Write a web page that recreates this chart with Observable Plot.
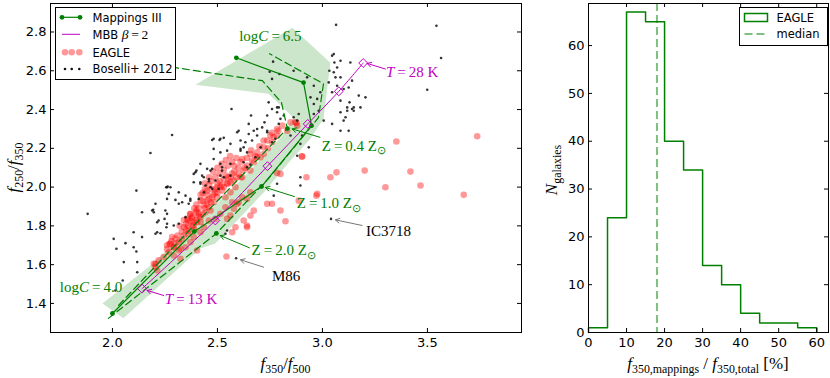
<!DOCTYPE html>
<html><head><meta charset="utf-8">
<script src="https://cdn.jsdelivr.net/npm/d3@7"></script>
<script src="https://cdn.jsdelivr.net/npm/@observablehq/plot@0.6"></script>
<style>
body{margin:0;background:#fff;}
#wrap{position:relative;width:830px;height:378px;overflow:hidden;background:#fff;}
#left,#right{position:absolute;top:0;}
#left{left:0}
#right{left:540px}
</style></head><body>
<div id="wrap"><div id="left"></div><div id="right"></div></div>
<script>
// ---------- LEFT PANEL DATA ----------
const xTicksL = [2.0, 2.5, 3.0, 3.5];
const yTicksL = [1.4, 1.6, 1.8, 2.0, 2.2, 2.4, 2.6, 2.8];

const boselli = [
[3.065,2.837],[3.543,2.832],[3.565,2.666],[3.499,2.502],[3.054,2.686],[3.086,2.652],[3.033,2.600],[3.054,2.592],[3.062,2.566],[3.086,2.566],[3.070,2.523],[3.030,2.540],[3.046,2.489],[3.101,2.506],[3.125,2.514],[3.173,2.472],[3.205,2.463],[3.129,2.437],[3.149,2.411],[3.141,2.403],[3.181,2.411],[3.118,2.394],[3.086,2.386],[3.046,2.326],[3.101,2.343],[2.935,2.205],[2.895,2.223],[2.880,2.162],[2.895,2.008],
[2.749,2.595],[2.765,2.647],[2.795,2.583],[2.863,2.600],[2.927,2.566],[2.959,2.523],[2.990,2.489],[2.943,2.463],[2.975,2.455],[3.046,2.678],[3.057,2.643],[3.070,2.617],[3.133,2.643],[3.141,2.549],[2.760,2.558],[2.744,2.437],[2.760,2.403],[2.784,2.411],[2.660,2.369],[2.567,2.403],[2.514,2.249],[2.482,2.249],[2.649,2.274],[2.665,2.240],[2.689,2.266],[2.713,2.308],[2.737,2.291],[2.880,2.343],[2.887,2.377],[2.959,2.429],[2.959,2.377],[2.982,2.394],[3.006,2.343],[3.086,2.446],[3.118,2.411],[3.149,2.394],[3.110,2.360],[3.125,2.291],[3.086,2.291],
[2.181,2.176],[2.284,2.269],[2.475,2.243],[2.510,2.243],[2.530,2.254],[2.482,2.197],[2.482,2.145],[2.594,2.283],[2.601,2.291],[2.610,2.240],[2.633,2.231],[2.625,2.205],[2.641,2.179],[2.610,2.188],[2.649,2.326],[2.673,2.291],[2.724,2.334],[2.737,2.369],[2.737,2.283],[2.776,2.249],[2.792,2.326],[2.800,2.352],[2.816,2.369],[2.784,2.386],[2.792,2.411],[2.863,2.360],[2.760,2.231],[2.705,2.205],[2.681,2.154],[2.562,2.223],[2.546,2.188],[2.514,2.120],[2.451,2.094],[2.427,2.059],[2.395,2.076],[2.387,2.025],[2.419,2.025],[2.459,2.030],[2.467,1.999],[2.514,2.059],[2.276,1.999],[2.260,1.999],[2.895,2.051],[2.848,2.266],[2.903,2.266],
[2.114,1.982],[2.141,1.870],[2.194,1.883],[2.197,1.870],[2.263,2.003],[2.268,1.965],[2.252,1.879],[2.260,1.862],[2.248,1.836],[2.220,1.828],[2.260,1.811],[2.213,1.767],[2.205,1.759],[2.229,1.762],[2.141,1.742],[2.101,1.690],[2.062,1.711],[2.019,1.682],[2.054,1.613],[2.118,1.561],[2.049,1.518],[2.316,1.914],[2.316,1.973],[2.300,1.934],[2.332,1.922],[2.363,1.914],[2.371,1.939],[2.348,1.956],[2.387,2.068],[2.400,2.085],[2.419,2.017],[2.443,2.008],[2.435,1.973],[2.467,2.085],[2.459,2.042],[2.490,2.034],[2.522,2.085],[2.530,2.051],[2.506,1.991],[2.562,2.059],[2.562,2.120],[2.641,2.102],[2.657,2.116],[2.625,2.128],[2.475,1.991],[2.411,1.939],[2.546,1.776],[2.538,1.759],
[1.882,1.862],[2.114,1.668],[2.014,1.467],[2.118,1.613],[2.260,1.939],[2.205,1.914],[2.189,1.879],[2.213,1.819],[2.256,1.999],[2.371,1.930],[2.348,1.845],[2.316,1.811],[2.292,1.802],[2.257,1.793],[2.101,1.767],[2.006,1.733],
[2.768,1.956],[2.784,2.017],[2.589,1.633],[3.041,1.836],[2.419,2.120],[2.435,2.051],[2.475,2.094],[2.522,2.102],[2.514,2.179],[2.610,2.197],[2.689,2.300]
];

const eagle = [
[3.737,2.262],[3.352,2.235],[3.201,2.085],[3.419,2.080],[3.067,2.076],[3.038,2.051],[2.924,2.051],[3.300,1.999],[3.467,2.008],[2.903,2.159],[2.876,2.331],[2.784,2.073],[2.768,2.257],[3.673,1.960],[2.971,1.956],[2.800,1.879],[2.824,1.824],[2.760,1.914],[2.975,1.965],[2.887,1.930],[2.737,1.914],[2.800,2.068],[2.641,1.793],[2.657,1.853],[2.625,1.828],[2.586,1.793],[2.570,1.767],[2.543,1.642],[2.641,1.802],[2.673,1.879],[2.403,1.673],
[2.271,1.708],[2.292,1.647],[2.324,1.630],[2.244,1.639],[2.213,1.570],[2.205,1.604],[2.197,1.604],[2.276,1.708],[2.220,1.622],[2.205,1.587],[2.268,1.664],[2.284,1.742],[2.300,1.735],[2.260,1.700],[2.292,1.690],[2.316,1.674],[2.340,1.793],[2.356,1.836],[2.371,1.862],[2.371,1.828],[2.387,1.819],[2.411,1.862],
[2.618,2.145],[2.641,2.111],[2.657,2.171],[2.689,2.179],[2.720,2.205],[2.737,2.240],[2.752,2.266],[2.784,2.300],[2.808,2.317],[2.848,2.334],[2.880,2.317],[2.665,2.137],[2.625,2.085],[2.601,2.068],[2.578,2.034],[2.546,2.017],[2.522,1.982],[2.498,1.948],[2.482,1.922],[2.459,1.896],[2.443,1.870],[2.419,1.845],[2.403,1.819],[2.387,1.802],[2.363,1.776],[2.340,1.750],[2.316,1.716],[2.292,1.690],[2.562,2.051],[2.530,2.042],[2.498,1.999],[2.490,1.973],[2.475,1.948],[2.451,1.931],[2.435,1.905],[2.467,1.879],[2.618,2.051],[2.586,1.999],[2.657,2.085],[2.673,2.128],[2.705,2.154],[2.538,1.948],[2.562,1.973],[2.570,1.922],[2.538,1.896],[2.514,1.862],[2.490,1.836],[2.601,1.922],[2.459,1.828],[2.435,1.793],[2.419,1.767],[2.387,1.742],[2.371,1.716],[2.348,1.690],[2.324,1.682],
[2.689,2.154],[2.720,2.171],[2.760,2.231],[2.784,2.266],[2.832,2.291],[2.871,2.334],[2.903,2.157],[2.610,2.051],[2.562,2.025],[2.514,1.999],
[2.594,1.914],[2.618,1.948],[2.641,1.940],[2.657,1.973],[2.578,1.888],[2.562,1.853],[2.546,1.836],
[2.450,1.960],[2.470,1.990],[2.500,2.020],[2.430,1.930],[2.410,1.890],[2.400,1.880],[2.520,2.010],[2.550,2.050],[2.580,2.080],[2.600,2.100],[2.430,1.860],[2.380,1.840],[2.360,1.800],[2.330,1.770],
[2.26,1.68],[2.28,1.72],[2.30,1.71],[2.31,1.75],[2.33,1.73],[2.35,1.78],[2.36,1.76],[2.38,1.80],[2.39,1.78],[2.40,1.83],[2.41,1.85],[2.42,1.82],[2.44,1.89],[2.45,1.91],[2.46,1.94],[2.47,1.92],[2.48,1.96],[2.49,1.99],[2.50,1.97],[2.51,2.03],[2.53,2.00],[2.54,2.06],[2.55,2.02],[2.57,2.07],[2.58,2.11],[2.59,2.05],[2.61,2.13],[2.63,2.10],[2.64,2.15],[2.66,2.19],[2.68,2.16],[2.70,2.21],[2.72,2.24],[2.74,2.20],[2.76,2.28],[2.79,2.29],[2.44,1.99],[2.42,1.96],[2.46,2.01],[2.40,1.91],
[2.43,1.97],[2.44,2.02],[2.46,2.05],[2.48,2.08],[2.50,2.10],[2.52,2.12],[2.54,2.14],[2.56,2.16],[2.47,2.03],[2.49,2.05],[2.51,2.07],[2.53,2.09],[2.55,2.11],[2.57,2.13],[2.59,2.15],[2.45,1.98],[2.42,1.93],[2.40,1.87],[2.38,1.85],[2.36,1.83],[2.35,1.81],[2.37,1.86],[2.39,1.89],[2.34,1.83],[2.32,1.80]
];

// Mappings III tracks (logC = 4.0 ... 6.5)
const trackZ10 = [[2.000,1.348],[2.390,1.771],[2.710,2.003],[2.948,2.317],[2.910,2.539],[2.590,2.667]];
const trackZ04 = [[2.029,1.390],[2.419,1.838],[2.833,2.302],[2.805,2.436],[2.714,2.549],[2.276,2.620]];
const trackZ20 = [[1.981,1.323],[2.495,1.761],[2.743,2.044],[2.981,2.358],[3.005,2.533],[2.748,2.688]];
const zPoints = [[2.833,2.302],[2.495,1.761]];
const envelope = [[2.052,1.323],[2.419,1.683],[2.490,1.709],[2.729,1.982],[2.848,2.137],[2.943,2.250],[3.005,2.353],[3.038,2.642],[2.857,2.822],[2.395,2.528],[2.743,2.482],[2.862,2.358],[2.810,2.266],[2.610,2.034],[2.371,1.786],[2.181,1.596],[1.952,1.400]];

// MBB beta=2 track, T = 13 ... 28 K
const mbbT = [13,16,19,22,25,28];
const mbbX = [2.141,2.490,2.738,2.930,3.078,3.194];
const mbbY = [1.476,1.828,2.108,2.326,2.494,2.640];

// annotations: [x, y, color, parts]
const annTexts = [
  [2.606,2.750,"green",[["log","r"],["C","i"],["\u2009=\u2009","r"],["6.5","r"]]],
  [1.752,1.457,"green",[["log","r"],["C","i"],["\u2009=\u2009","r"],["4.0","r"]]],
  [3.305,2.564,"#bf00bf",[["T","i"],["\u2009=\u2009","r"],["28 K","r"]]],
  [2.252,1.395,"#bf00bf",[["T","i"],["\u2009=\u2009","r"],["13 K","r"]]],
  [2.999,2.186,"green",[["Z","r"],["\u2009=\u2009","r"],["0.4 Z","r"],["\u2299","s"]]],
  [2.880,1.889,"green",[["Z","r"],["\u2009=\u2009","r"],["1.0 Z","r"],["\u2299","s"]]],
  [2.665,1.647,"green",[["Z","r"],["\u2009=\u2009","r"],["2.0 Z","r"],["\u2299","s"]]],
  [3.210,1.745,"black",[["IC3718","r"]]],
  [2.762,1.511,"black",[["M86","r"]]]
];
const arrows = [
  {x1:2.988,y1:2.257,x2:2.856,y2:2.300,c:"green"},
  {x1:2.867,y1:1.951,x2:2.729,y2:1.998,c:"green"},
  {x1:2.652,y1:1.687,x2:2.514,y2:1.750,c:"green"},
  {x1:3.300,y1:2.609,x2:3.213,y2:2.638,c:"#bf00bf"},
  {x1:2.244,y1:1.441,x2:2.165,y2:1.467,c:"#bf00bf"},
  {x1:3.189,y1:1.802,x2:3.062,y2:1.831,c:"#777"},
  {x1:2.720,y1:1.587,x2:2.610,y2:1.625,c:"#777"}
];

// ---------- RIGHT PANEL DATA ----------
const binEdges = [0,5,10,15,20,25,30,35,40,45,50,55,60];
const counts = [1,24,67,65,40,34,14,10,4,2,2,1];
const medianVal = 18;
const xTicksR = [0,10,20,30,40,50,60];
const yTicksR = [0,10,20,30,40,50,60];

// ---------- helpers ----------
const GREEN = "green", MAG = "#bf00bf";
function rich(sel, x, y, parts, o = {}) {
  const size = o.size || 15;
  const t = sel.append("text").attr("x", x).attr("y", y)
    .attr("font-family", "Liberation Serif")
    .attr("font-size", size).attr("fill", o.color || "black")
    .attr("text-anchor", o.anchor || "start");
  if (o.rotate) t.attr("transform", `rotate(${o.rotate},${x},${y})`);
  let shift = 0;
  for (const [s, k] of parts) {
    const sub = k === "s";
    const target = sub ? size * 0.26 : 0;
    const ts = t.append("tspan").text(s);
    if (target !== shift) { ts.attr("dy", target - shift); shift = target; }
    ts.attr("font-size", sub ? size * 0.7 : (k === "sans" ? (o.sansSize || size) : size));
    ts.attr("font-style", k === "i" ? "italic" : "normal");
    if (k === "sans") ts.attr("font-family", "DejaVu Sans");
  }
  return t;
}
function scaler(plot, name) {
  const s = plot.scale(name);
  if (s && typeof s.apply === "function") return v => s.apply(v);
  const [d0, d1] = s.domain, [r0, r1] = s.range;
  return v => r0 + (v - d0) / (d1 - d0) * (r1 - r0);
}
function legendText(g, x, y, txt) {
  return g.append("text").attr("x", x).attr("y", y).attr("text-anchor", "start")
    .attr("font-family", "DejaVu Sans").attr("font-size", 11.5).attr("fill", "black").text(txt);
}
const f1 = d => d.toFixed(1);

// ---------- LEFT PLOT ----------
const LW = 540, LH = 378, lmL = 50, lmR = 19, lmT = 3, lmB = 46;
const innerW = LW - lmL - lmR, innerH = LH - lmT - lmB;
const mbb = mbbT.map((t, i) => ({t, x: mbbX[i], y: mbbY[i]}));
const left = Plot.plot({
  width: LW, height: LH, marginLeft: lmL, marginRight: lmR, marginTop: lmT, marginBottom: lmB,
  style: {fontFamily: "DejaVu Sans", fontSize: "13px", background: "white", color: "black", overflow: "visible"},
  x: {domain: [1.705, 3.948]},
  y: {domain: [1.25, 2.947]},
  marks: [
    Plot.line(envelope, {x: d => d[0], y: d => d[1], fill: GREEN, fillOpacity: 0.2, stroke: null, curve: "linear-closed"}),
    Plot.dot(eagle, {x: d => d[0], y: d => d[1], r: 3.3, fill: "red", fillOpacity: 0.4, stroke: null}),
    Plot.dot(boselli, {x: d => d[0], y: d => d[1], r: 1.3, fill: "#111", fillOpacity: 0.85, stroke: null}),
    Plot.line(trackZ04, {x: d => d[0], y: d => d[1], stroke: GREEN, strokeWidth: 1.2, strokeDasharray: "7,4"}),
    Plot.line(trackZ20, {x: d => d[0], y: d => d[1], stroke: GREEN, strokeWidth: 1.2, strokeDasharray: "7,4"}),
    Plot.line(trackZ10, {x: d => d[0], y: d => d[1], stroke: GREEN, strokeWidth: 1.2}),
    Plot.dot(trackZ10, {x: d => d[0], y: d => d[1], r: 2.4, fill: GREEN}),
    Plot.dot(zPoints, {x: d => d[0], y: d => d[1], r: 2.4, fill: GREEN}),
    Plot.line(mbb, {x: "x", y: "y", stroke: MAG, strokeWidth: 1, curve: "catmull-rom"}),
    Plot.dot(mbb, {x: "x", y: "y", symbol: "diamond2", r: 4, stroke: MAG, strokeWidth: 1, fill: "none"}),
    Plot.arrow(arrows, {x1: "x1", y1: "y1", x2: "x2", y2: "y2", stroke: "c", strokeWidth: 1, headLength: 7}),
    Plot.ruleX(xTicksL, {stroke: "black", insetTop: innerH - 4}),
    Plot.ruleX(xTicksL, {stroke: "black", insetBottom: innerH - 4}),
    Plot.ruleY(yTicksL, {stroke: "black", insetRight: innerW - 4}),
    Plot.ruleY(yTicksL, {stroke: "black", insetLeft: innerW - 4}),
    Plot.frame({stroke: "black"}),
    Plot.axisX({ticks: xTicksL, tickSize: 0, tickPadding: 5, tickFormat: f1, label: null}),
    Plot.axisY({ticks: yTicksL, tickSize: 0, tickPadding: 4, tickFormat: f1, label: null})
  ]
});
document.getElementById("left").appendChild(left);
{
  const sx = scaler(left, "x"), sy = scaler(left, "y");
  const svg = d3.select(left);
  for (const [x, y, c, parts] of annTexts) rich(svg, sx(x), sy(y), parts, {color: c, size: 15});
  // axis labels
  rich(svg, lmL + innerW / 2, 369, [["f","i"],["350","s"],["/","r"],["f","i"],["500","s"]], {size: 17, anchor: "middle"});
  rich(svg, 19, lmT + innerH / 2, [["f","i"],["250","s"],["/","r"],["f","i"],["350","s"]], {size: 17, anchor: "middle", rotate: -90});
  // legend
  const g = svg.append("g");
  g.append("rect").attr("x", 55.5).attr("y", 7.5).attr("width", 120).attr("height", 72)
    .attr("fill", "white").attr("stroke", "black").attr("stroke-width", 1);
  const rows = [17.3, 34.3, 52.3, 69];
  g.append("line").attr("x1", 62).attr("x2", 80).attr("y1", rows[0]).attr("y2", rows[0]).attr("stroke", GREEN).attr("stroke-width", 1.2);
  [62, 80].forEach(x => g.append("circle").attr("cx", x).attr("cy", rows[0]).attr("r", 2.4).attr("fill", GREEN));
  g.append("line").attr("x1", 62).attr("x2", 80).attr("y1", rows[1]).attr("y2", rows[1]).attr("stroke", MAG).attr("stroke-width", 1);
  [65, 71.7, 79.3].forEach(x => g.append("circle").attr("cx", x).attr("cy", rows[2]).attr("r", 3.3).attr("fill", "red").attr("fill-opacity", 0.4));
  [65, 71.7, 79.3].forEach(x => g.append("circle").attr("cx", x).attr("cy", rows[3]).attr("r", 1.3).attr("fill", "#111"));
  legendText(g, 92.5, rows[0] + 4.2, "Mappings III");
  rich(g, 92.5, rows[1] + 4.2, [["MBB ","sans"],["\u03b2","i"],["\u2009=\u20092","r"]], {size: 13.5, sansSize: 11.5});
  legendText(g, 92.5, rows[2] + 4.2, "EAGLE");
  legendText(g, 92.5, rows[3] + 4.2, "Boselli+ 2012");
}

// ---------- RIGHT PLOT ----------
const RW = 290, RH = 378, rmL = 48, rmR = 2, rmT = 3, rmB = 46;
const rInnerW = RW - rmL - rmR, rInnerH = RH - rmT - rmB;
const histPts = [{x: binEdges[0], y: 0}];
counts.forEach((c, i) => { histPts.push({x: binEdges[i], y: c}, {x: binEdges[i + 1], y: c}); });
histPts.push({x: binEdges[binEdges.length - 1], y: 0});
const right = Plot.plot({
  width: RW, height: RH, marginLeft: rmL, marginRight: rmR, marginTop: rmT, marginBottom: rmB,
  style: {fontFamily: "DejaVu Sans", fontSize: "13px", background: "white", color: "black", overflow: "visible"},
  x: {domain: [0, 63.1]},
  y: {domain: [0, 68.8]},
  marks: [
    Plot.line(histPts, {x: "x", y: "y", stroke: GREEN, strokeWidth: 1.5}),
    Plot.ruleX([medianVal], {stroke: GREEN, strokeOpacity: 0.5, strokeWidth: 2, strokeDasharray: "8,4"}),
    Plot.ruleX(xTicksR, {stroke: "black", insetTop: rInnerH - 4}),
    Plot.ruleX(xTicksR, {stroke: "black", insetBottom: rInnerH - 4}),
    Plot.ruleY(yTicksR, {stroke: "black", insetRight: rInnerW - 4}),
    Plot.ruleY(yTicksR, {stroke: "black", insetLeft: rInnerW - 4}),
    Plot.frame({stroke: "black"}),
    Plot.axisX({ticks: xTicksR, tickSize: 0, tickPadding: 5, label: null}),
    Plot.axisY({ticks: yTicksR, tickSize: 0, tickPadding: 4, label: null})
  ]
});
document.getElementById("right").appendChild(right);
{
  const svg = d3.select(right);
  rich(svg, rmL + rInnerW / 2, 369, [["f","i"],["350,mappings","s"],[" / ","r"],["f","i"],["350,total","s"],[" [%]","r"]], {size: 17, anchor: "middle"});
  rich(svg, 17, 170, [["N","i"],["galaxies","s"]], {size: 17, anchor: "middle", rotate: -90});
  const g = svg.append("g");
  g.append("rect").attr("x", 199.5).attr("y", 7.5).attr("width", 88).attr("height", 38)
    .attr("fill", "white").attr("stroke", "black").attr("stroke-width", 1);
  g.append("rect").attr("x", 204.5).attr("y", 13.5).attr("width", 23).attr("height", 8)
    .attr("fill", "white").attr("stroke", GREEN).attr("stroke-width", 1.5);
  g.append("line").attr("x1", 204.5).attr("x2", 227.5).attr("y1", 34).attr("y2", 34)
    .attr("stroke", GREEN).attr("stroke-opacity", 0.5).attr("stroke-width", 2).attr("stroke-dasharray", "8,4");
  legendText(g, 236.5, 21.5, "EAGLE");
  legendText(g, 236.5, 38.2, "median");
}
</script>
</body></html>
